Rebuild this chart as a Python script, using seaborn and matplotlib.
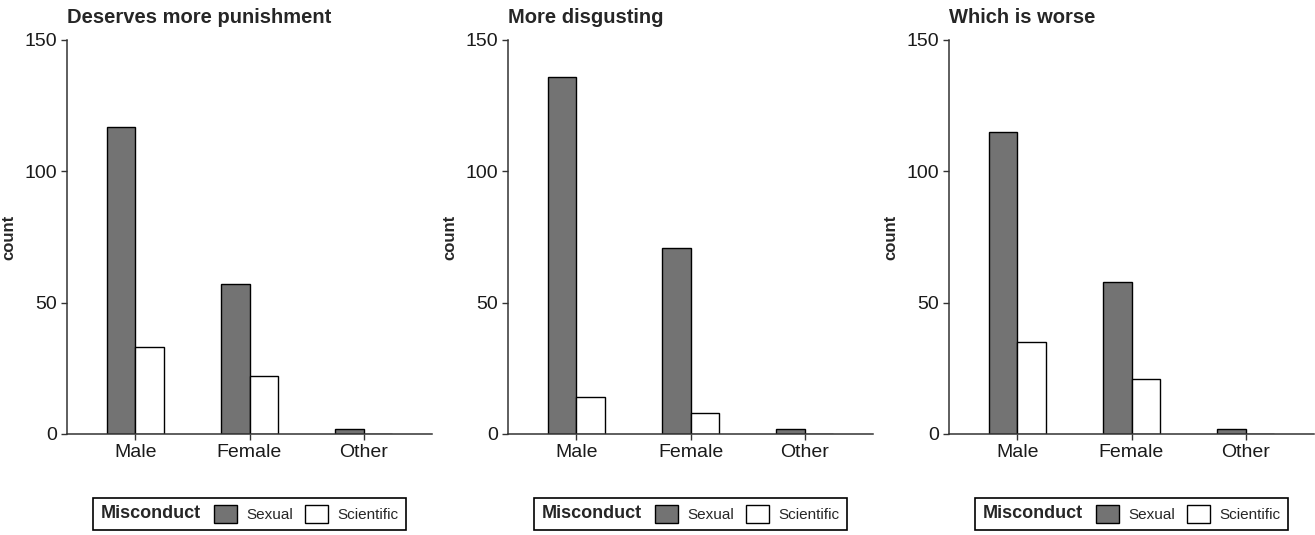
import matplotlib
matplotlib.use("Agg")
import matplotlib.pyplot as plt
import seaborn as sns
import pandas as pd
from matplotlib.patches import Patch
from matplotlib.offsetbox import HPacker

genders = ["Male", "Female", "Other"]
misconduct = ["Sexual", "Scientific"]
titles = ["Deserves more punishment", "More disgusting", "Which is worse"]
sexual_counts = [[117, 57, 2], [136, 71, 2], [115, 58, 2]]
scientific_counts = [[33, 22, 0], [14, 8, 0], [35, 21, 0]]
yticks = [0, 50, 100, 150]
colors = {"Sexual": "#737373", "Scientific": "#ffffff"}

sns.set_style("white")
plt.rcParams["font.family"] = ["Liberation Sans", "DejaVu Sans"]

W, H = 1315, 535
fig = plt.figure(figsize=(W / 100, H / 100), dpi=100)

lefts = [67, 508, 949]
ax_w, ax_top, ax_bot = 365, 40, 434

for i in range(3):
    df = pd.DataFrame({
        "gender": genders * 2,
        "Misconduct": ["Sexual"] * 3 + ["Scientific"] * 3,
        "count": sexual_counts[i] + scientific_counts[i],
    })
    ax = fig.add_axes([lefts[i] / W, 1 - ax_bot / H, ax_w / W, (ax_bot - ax_top) / H])
    sns.barplot(data=df, x="gender", y="count", hue="Misconduct", order=genders,
                hue_order=misconduct, palette=colors, width=0.5, edgecolor="black",
                linewidth=1, ax=ax, legend=False, errorbar=None)
    ax.set_xlim(-0.6, 2.6)
    ax.set_ylim(0, 150)
    ax.set_yticks(yticks)
    ax.set_yticklabels([str(v) for v in yticks])
    for s in ["top", "right"]:
        ax.spines[s].set_visible(False)
    for s in ["left", "bottom"]:
        ax.spines[s].set_color("#333333")
        ax.spines[s].set_linewidth(1.1)
    ax.tick_params(axis="both", which="both", direction="out", length=4, width=1,
                   color="#333333", labelsize=14, labelcolor="#1a1a1a", left=True, bottom=True,
                   pad=3)
    ax.set_xlabel("")
    ax.set_ylabel("count", fontsize=12, fontweight="bold", labelpad=6)
    ax.set_title(titles[i], loc="left", fontsize=14.5, fontweight="bold", pad=12)

    handles = [Patch(facecolor=colors[m], edgecolor="black", linewidth=1) for m in misconduct]
    cx = (lefts[i] + ax_w / 2) / W
    leg = fig.legend(handles, misconduct, loc="center", bbox_to_anchor=(cx, 1 - 514 / H),
                     bbox_transform=fig.transFigure, ncol=2, fontsize=11,
                     title="Misconduct", title_fontproperties={"weight": "bold", "size": 13},
                     frameon=True, fancybox=False, edgecolor="black", framealpha=1,
                     handlelength=1.45, handleheight=1.45, handletextpad=0.65,
                     columnspacing=0.8, borderpad=0.45)
    leg.get_frame().set_linewidth(1.2)
    leg._legend_box.__class__ = HPacker
    leg._legend_box.sep = 10
    leg._legend_box.align = "center"

fig.savefig("out.png", dpi=100)
